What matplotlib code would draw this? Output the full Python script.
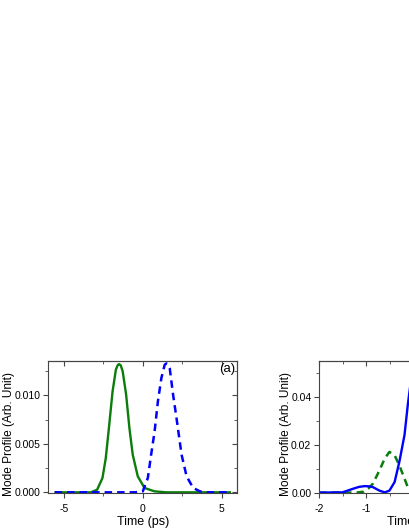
import matplotlib
matplotlib.use('Agg')
import matplotlib.pyplot as plt
from matplotlib.ticker import MultipleLocator, FormatStrFormatter

plt.rcParams['font.family'] = ['Liberation Sans', 'DejaVu Sans']
plt.rcParams['axes.unicode_minus'] = False

# ---- panel (a) data ----
t_a_green = [-5.6, -4.0, -3.3, -2.9, -2.56, -2.35, -2.13, -1.92, -1.71, -1.6, -1.51,
             -1.4, -1.28, -1.06, -0.85, -0.64, -0.32, 0.11, 0.75, 1.5, 3.0, 5.6]
y_a_green = [0, 0, 0, 0.00027, 0.00148, 0.00354, 0.00698, 0.0104, 0.01265, 0.0131, 0.01323,
             0.0131, 0.0125, 0.0101, 0.00663, 0.00389, 0.00165, 0.00045, 0.0001, 0, 0, 0]

t_a_blue = [-5.6, -2.0, -0.5, 0.0, 0.32, 0.53, 0.75, 0.96, 1.18, 1.39, 1.5,
            1.61, 1.71, 1.92, 2.14, 2.46, 2.78, 3.2, 3.63, 4.0, 5.6]
y_a_blue = [0, 0, 0, 0.0001, 0.00148, 0.0039, 0.0063, 0.0094, 0.0118, 0.01316, 0.0133,
            0.01315, 0.0128, 0.0101, 0.00766, 0.0039, 0.00165, 0.00045, 0.0001, 0, 0]

# ---- panel (b) data ----
t_b_blue = [-2.0, -1.5, -1.28, -1.15, -1.03, -0.94, -0.86, -0.72, -0.61, -0.51, -0.40,
            -0.30, -0.19, -0.12, -0.06, 0.0, 0.06, 0.12, 0.19, 0.30, 0.40, 0.51, 0.61,
            0.72, 0.86, 0.94, 1.03, 1.15, 1.28, 1.5, 2.0]
y_b_blue = [0, 0.0001, 0.0016, 0.0024, 0.0027, 0.0026, 0.0023, 0.0008, 0.0001, 0.0008, 0.0044,
            0.0128, 0.0241, 0.0368, 0.046, 0.049, 0.046, 0.0368, 0.0241, 0.0128, 0.0044,
            0.0008, 0.0001, 0.0008, 0.0023, 0.0026, 0.0027, 0.0024, 0.0016, 0.0001, 0]

t_b_green = [-2.0, -1.2, -1.05, -0.96, -0.86, -0.72, -0.61, -0.51, -0.40, -0.30, -0.19,
             -0.12, -0.05, 0.0, 0.05, 0.12, 0.19, 0.30, 0.40, 0.51, 0.61, 0.72, 0.86,
             0.96, 1.05, 1.2, 2.0]
y_b_green = [0, 0, 0.0004, 0.0016, 0.0037, 0.0093, 0.0142, 0.0170, 0.0156, 0.0114, 0.0058,
             0.0022, 0.0003, 0.0, 0.0003, 0.0022, 0.0058, 0.0114, 0.0156, 0.0170, 0.0142,
             0.0093, 0.0037, 0.0016, 0.0004, 0, 0]

GREEN = '#0a7d0a'
BLUE = '#0000ff'
SPINE = '#454545'

fig = plt.figure(figsize=(4.09, 5.29), dpi=100)
ax1 = fig.add_axes([48.3 / 409, 35.7 / 529, 189 / 409, 132.3 / 529])
ax2 = fig.add_axes([319 / 409, 35.7 / 529, 189 / 409, 132.3 / 529])


def style(ax, xlim, ylim, xmaj, xmin, ymaj, ymin, yfmt):
    ax.set_xlim(*xlim)
    ax.set_ylim(*ylim)
    ax.xaxis.set_major_locator(MultipleLocator(xmaj))
    ax.xaxis.set_minor_locator(MultipleLocator(xmin))
    ax.yaxis.set_major_locator(MultipleLocator(ymaj))
    ax.yaxis.set_minor_locator(MultipleLocator(ymin))
    ax.yaxis.set_major_formatter(FormatStrFormatter(yfmt))
    ax.xaxis.set_major_formatter(FormatStrFormatter('%g'))
    for sp in ax.spines.values():
        sp.set_color(SPINE)
        sp.set_linewidth(0.8)
    ax.tick_params(which='major', direction='out', length=3.5, width=0.8,
                   color=SPINE, labelsize=7.5)
    ax.tick_params(axis='y', which='major', pad=2)
    ax.tick_params(axis='x', which='major', pad=4)
    ax.tick_params(which='minor', direction='out', length=2, width=0.6, color=SPINE)
    sx = ax.secondary_xaxis('top')
    sx.xaxis.set_major_locator(MultipleLocator(xmaj))
    sx.xaxis.set_minor_locator(MultipleLocator(xmin))
    sx.tick_params(which='both', direction='in', labeltop=False, color=SPINE)
    sx.tick_params(which='major', length=3.5, width=0.8)
    sx.tick_params(which='minor', length=2, width=0.6)
    sx.spines['top'].set_color(SPINE)
    sx.spines['top'].set_linewidth(0.8)
    sy = ax.secondary_yaxis('right')
    sy.yaxis.set_major_locator(MultipleLocator(ymaj))
    sy.yaxis.set_minor_locator(MultipleLocator(ymin))
    sy.tick_params(which='both', direction='in', labelright=False, color=SPINE)
    sy.tick_params(which='major', length=3.5, width=0.8)
    sy.tick_params(which='minor', length=2, width=0.6)
    sy.spines['right'].set_color(SPINE)
    sy.spines['right'].set_linewidth(0.8)
    ax.set_xlabel('Time (ps)', fontsize=9)
    ax.set_ylabel('Mode Profile (Arb. Unit)', fontsize=8.6)


ax1.plot(t_a_green, y_a_green, color=GREEN, lw=1.7, solid_capstyle='butt')
ax1.plot(t_a_blue, y_a_blue, color=BLUE, lw=1.8, dashes=(3, 2))
style(ax1, (-6, 6), (-0.0001, 0.01355), 5, 2.5, 0.005, 0.0025, '%.3f')
ax1.text(0.99, 0.985, '(a)', transform=ax1.transAxes, ha='right', va='top', fontsize=9.5)
ax1.xaxis.set_label_coords(0.5, -0.17)
ax1.yaxis.set_label_coords(-0.176, 0.45)

ax2.plot(t_b_green, y_b_green, color=GREEN, lw=1.8, dashes=(3, 2))
ax2.plot(t_b_blue, y_b_blue, color=BLUE, lw=1.7)
style(ax2, (-2, 2), (-0.0003, 0.055), 1, 0.5, 0.02, 0.01, '%.2f')
ax2.xaxis.set_label_coords(0.5, -0.17)
ax2.yaxis.set_label_coords(-0.143, 0.45)

fig.savefig('out.png', dpi=100)
